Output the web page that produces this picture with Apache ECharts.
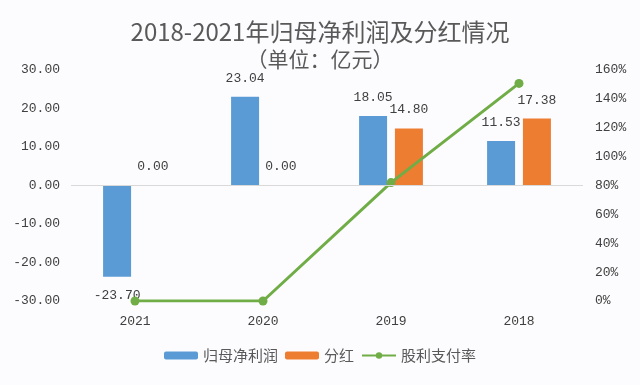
<!DOCTYPE html>
<html><head><meta charset="utf-8">
<script src="https://cdn.jsdelivr.net/npm/echarts@6/dist/echarts.min.js"></script>
<style>html,body{margin:0;padding:0;background:#fcfcfe;}#c{width:640px;height:385px;}</style>
</head><body><div id="c"></div>
<script>
const categories = ['2021', '2020', '2019', '2018'];
const netProfit = [-23.70, 23.04, 18.05, 11.53];
const dividend = [0.00, 0.00, 14.80, 17.38];
const payoutRatio = [0, 0, 82.0, 150.7];
const leftTicks = [-30, -20, -10, 0, 10, 20, 30];
const rightTicks = [0, 20, 40, 60, 80, 100, 120, 140, 160];

const FONT = '"Noto Sans CJK SC", "Noto Sans", sans-serif';
const NUM = '"Liberation Mono", "DejaVu Sans Mono", monospace';
const TXT = '#404040';

function barData(arr) {
  return arr.map(v => ({
    value: v,
    label: { position: v < 0 ? 'bottom' : 'top' }
  }));
}

const chart = echarts.init(document.getElementById('c'));
chart.setOption({
  backgroundColor: '#fcfcfe',
  animation: false,
  title: [
    { text: '2018-2021年归母净利润及分红情况', left: 'center', top: 15,
      textStyle: { fontFamily: FONT, fontSize: 24, fontWeight: 'normal', color: '#595959' } },
    { text: '（单位：亿元）', left: 'center', top: 44,
      textStyle: { fontFamily: FONT, fontSize: 21, fontWeight: 'normal', color: '#595959' } }
  ],
  legend: {
    bottom: 17, left: 'center', itemWidth: 34, itemHeight: 8, itemGap: 7,
    textStyle: { fontFamily: FONT, fontSize: 15, color: '#595959' },
    data: ['归母净利润', '分红', '股利支付率']
  },
  grid: { left: 71, right: 57, top: 70, bottom: 84 },
  xAxis: {
    type: 'category', data: categories,
    axisLine: { show: false }, axisTick: { show: false },
    axisLabel: { fontFamily: NUM, fontSize: 13, color: TXT, margin: 14 }
  },
  yAxis: [
    { type: 'value', min: leftTicks[0], max: leftTicks[leftTicks.length - 1], interval: 10,
      splitLine: { show: false }, axisLine: { show: false }, axisTick: { show: false },
      axisLabel: { fontFamily: NUM, fontSize: 13, color: TXT, margin: 11,
        formatter: v => v.toFixed(2) } },
    { type: 'value', min: rightTicks[0], max: rightTicks[rightTicks.length - 1], interval: 20,
      splitLine: { show: false }, axisLine: { show: false }, axisTick: { show: false },
      axisLabel: { fontFamily: NUM, fontSize: 13, color: TXT, margin: 12,
        formatter: v => v + '%' } }
  ],
  series: [
    { name: '归母净利润', type: 'bar', data: barData(netProfit), barWidth: 28, barGap: '28%',
      itemStyle: { color: '#5B9BD5' },
      label: { show: true, distance: 12, fontFamily: NUM, fontSize: 13, color: TXT,
        formatter: p => p.value.toFixed(2) },
      markLine: { silent: true, symbol: 'none', label: { show: false },
        lineStyle: { color: '#d9d9d9', type: 'solid', width: 1 },
        data: [{ yAxis: 0 }] }, z: 2 },
    { name: '分红', type: 'bar', data: barData(dividend), barWidth: 28,
      itemStyle: { color: '#ED7D31' },
      label: { show: true, distance: 12, fontFamily: NUM, fontSize: 13, color: TXT,
        formatter: p => p.value.toFixed(2) }, z: 2 },
    { name: '股利支付率', type: 'line', yAxisIndex: 1, data: payoutRatio,
      symbol: 'circle', symbolSize: 9, lineStyle: { color: '#70AD47', width: 3 },
      itemStyle: { color: '#70AD47' }, z: 3 }
  ]
});
</script></body></html>
